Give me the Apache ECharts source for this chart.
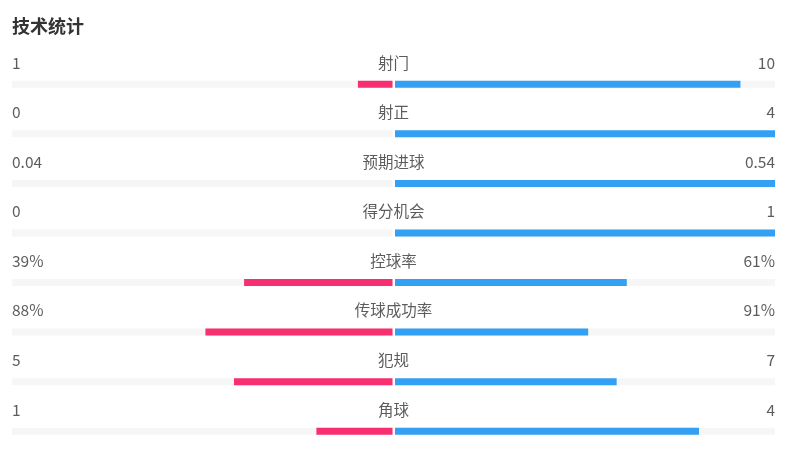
<!DOCTYPE html>
<html><head><meta charset="utf-8">
<script src="https://cdn.jsdelivr.net/npm/echarts@6/dist/echarts.min.js"></script>
<style>html,body{margin:0;padding:0;background:#fff}#c{width:789px;height:456px}</style>
</head><body><div id="c"></div>
<script>
const categories = ['射门','射正','预期进球','得分机会','控球率','传球成功率','犯规','角球'];
const leftLabels = ['1','0','0.04','0','39%','88%','5','1'];
const rightLabels = ['10','4','0.54','1','61%','91%','7','4'];
// bar lengths (relative shares per row)
const leftBar = [1, 0, 0, 0, 39, 88, 5, 1];
const rightBar = [10, 4, 1, 1, 61, 91, 7, 4];

const leftShare = leftBar.map((v,i)=> v/(v+rightBar[i]));
const rightShare = rightBar.map((v,i)=> v/(leftBar[i]+v));
const idx = categories.map((_,i)=>i);

const FONT = '"Noto Sans CJK SC", "Noto Sans", sans-serif';
const TOP = 59.5, H = 400;
const chart = echarts.init(document.getElementById('c'), null, {renderer:'canvas'});
const txt = {color:'#333', fontSize:15.5, fontFamily:FONT};
chart.setOption({
  animation:false,
  title:{text:'技术统计', left:7, top:12, textStyle:{fontSize:18, fontWeight:'bold', color:'#333', fontFamily:FONT}},
  grid:[
    {left:12, width:380.5, top:TOP, height:H},
    {left:395, width:380, top:TOP, height:H},
    {left:12, width:763, top:TOP, height:H}
  ],
  xAxis:[
    {gridIndex:0, type:'value', min:0, max:1, inverse:true, show:false},
    {gridIndex:1, type:'value', min:0, max:1, show:false},
    {gridIndex:2, type:'value', min:0, max:1, show:false}
  ],
  yAxis:[0,1,2].map(g=>({gridIndex:g, type:'category', data:categories, inverse:true, show:false})),
  series:[
    {type:'bar', xAxisIndex:0, yAxisIndex:0, data:leftShare, barWidth:7,
     showBackground:true, backgroundStyle:{color:'#f6f6f6'}, itemStyle:{color:'#f72e6f'}},
    {type:'bar', xAxisIndex:1, yAxisIndex:1, data:rightShare, barWidth:7,
     showBackground:true, backgroundStyle:{color:'#f6f6f6'}, itemStyle:{color:'#33a0f4'}},
    {type:'scatter', xAxisIndex:2, yAxisIndex:2, symbolSize:0, data:idx.map(i=>[0,i]),
     label:{show:true, position:'inside', align:'left', verticalAlign:'middle', offset:[0,-21.5], formatter:p=>leftLabels[p.dataIndex], ...txt}},
    {type:'scatter', xAxisIndex:2, yAxisIndex:2, symbolSize:0, data:idx.map(i=>[0.5,i]),
     label:{show:true, position:'inside', align:'center', verticalAlign:'middle', offset:[0,-21.5], formatter:p=>categories[p.dataIndex], ...txt}},
    {type:'scatter', xAxisIndex:2, yAxisIndex:2, symbolSize:0, data:idx.map(i=>[1,i]),
     label:{show:true, position:'inside', align:'right', verticalAlign:'middle', offset:[0,-21.5], formatter:p=>rightLabels[p.dataIndex], ...txt}}
  ]
});
</script></body></html>
